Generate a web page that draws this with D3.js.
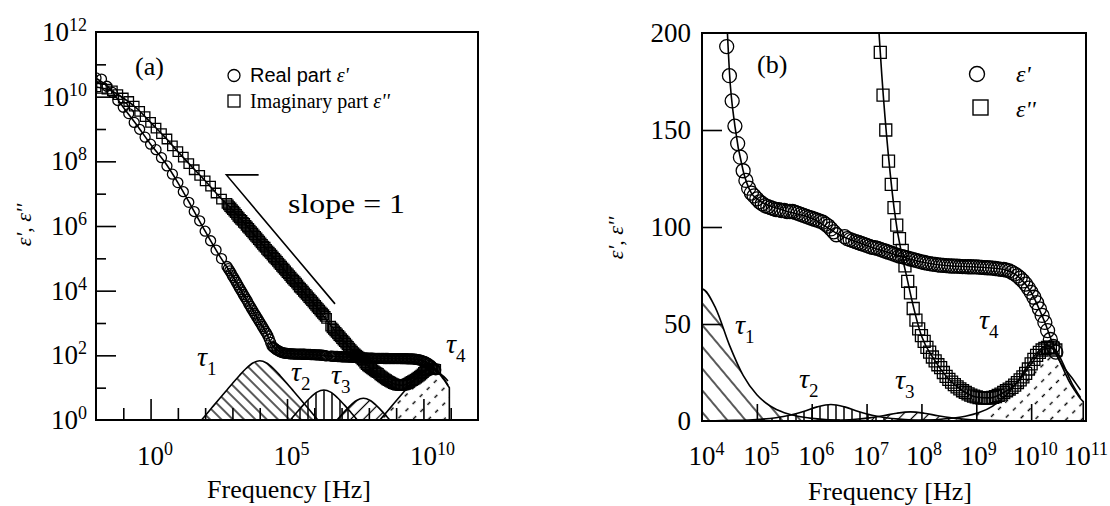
<!DOCTYPE html>
<html><head><meta charset="utf-8">
<script src="https://cdn.jsdelivr.net/npm/d3@7"></script>
<style>body{margin:0;background:#fff} svg{display:block}</style>
</head><body><svg id="c" width="1110" height="506"></svg>
<script>
// ---------- data (frequency given as log10 of Hz) ----------
const freqExpA = [-2.0,-1.8,-1.6,-1.4,-1.2,-1.0,-0.8,-0.6,-0.4,-0.2,0.0,0.2,0.4,0.6,0.8,1.0,1.2,1.4,1.6,1.8,2.0,2.2,2.4,2.6];
const realA = [3.8e10,3.5e10,2.1e10,1.35e10,7.6e9,4.7e9,3.0e9,1.6e9,9.8e8,5.6e8,3.4e8,2.3e8,1.3e8,7.2e7,4.0e7,2.2e7,1.15e7,5.4e6,2.8e6,1.45e6,6.9e5,3.5e5,1.8e5,9.8e4];
const imagA = [2.0e10,1.8e10,1.7e10,1.5e10,1.15e10,9.1e9,7.1e9,5.1e9,3.5e9,2.4e9,1.6e9,1.07e9,7.2e8,4.9e8,3.0e8,2.0e8,1.35e8,8.5e7,5.5e7,3.7e7,2.5e7,1.7e7,1.05e7,6.8e6];

const freqExpB = [2.80,2.85,2.90,2.95,3.00,3.05,3.10,3.15,3.20,3.25,3.30,3.35,3.40,3.45,3.50,3.55,3.60,3.65,3.70,3.75,3.80,3.85,3.90,3.95,4.00,
  4.05,4.10,4.15,4.20,4.25,4.30,4.35,4.40,4.45,4.50,4.55,4.60,4.65,4.70,4.75,4.80,4.85,4.90,4.95,5.00,
  5.05,5.10,5.15,5.20,5.25,5.30,5.35,5.40,5.45,5.50,5.55,5.60,5.65,5.70,5.75,5.80,5.85,5.90,5.95,6.00,
  6.05,6.10,6.15,6.20,6.25,6.30,6.35,6.40,6.45];
const realB = [5.6e4,4.8e4,4.1e4,3.5e4,2.9e4,2.5e4,2.1e4,1.8e4,1.5e4,1.26e4,1.07e4,9.1e3,7.6e3,6.5e3,5.5e3,4.7e3,3.9e3,3.3e3,2.8e3,2.4e3,2.0e3,1.74e3,1.48e3,1.26e3,1.07e3,
  910,780,660,560,480,400,320,250,193,178,165,152,143,136,129,124,120,117.5,116,114.5,
  113,112,111,110.5,110,109.5,109,109,108.5,108.5,108,108,108,107.5,107,106.5,106,105.5,105,104.5,
  104,103.5,103,102.5,101.5,100.5,99,97.5,96];
const imagB = [5.0e6,4.5e6,4.0e6,3.6e6,3.2e6,2.9e6,2.6e6,2.3e6,2.0e6,1.8e6,1.6e6,1.5e6,1.3e6,1.2e6,1.05e6,9.3e5,8.4e5,7.5e5,6.7e5,6.0e5,5.3e5,4.8e5,4.3e5,3.8e5,3.4e5,
  3.0e5,2.7e5,2.4e5,2.2e5,1.9e5,1.7e5,1.55e5,1.4e5,1.25e5,1.1e5,1.0e5,8.9e4,8.0e4,7.1e4,6.4e4,5.7e4,5.1e4,4.6e4,4.1e4,3.6e4,
  3.3e4,2.9e4,2.6e4,2.3e4,2.1e4,1.9e4,1.7e4,1.5e4,1.3e4,1.2e4,1.07e4,9.6e3,8.6e3,7.7e3,6.9e3,6.1e3,5.5e3,4.9e3,4.4e3,3.9e3,
  3.5e3,3.1e3,2.8e3,2.5e3,2.2e3,2.0e3,1.8e3,1.6e3,1.4e3];

const freqExpC = [6.60,6.65,6.70,6.75,6.80,6.85,6.90,6.95,7.00,
  7.05,7.10,7.15,7.20,7.25,7.30,7.35,7.40,7.45,7.50,7.55,7.60,7.65,7.70,7.75,7.80,7.85,7.90,7.95,8.00,
  8.05,8.10,8.15,8.20,8.25,8.30,8.35,8.40,8.45,8.50,8.55,8.60,8.65,8.70,8.75,8.80,8.85,8.90,8.95,9.00,
  9.05,9.10,9.15,9.20,9.25,9.30,9.35,9.40,9.45,9.50,9.55,9.60,9.65,9.70,9.75,9.80,9.85,9.90,9.95,10.00,
  10.05,10.10,10.15,10.20,10.25,10.30,10.35,10.40,10.45];
const realC = [95,94,93.5,93,92.5,92,91.5,91,90.5,
  90,89.5,89.3,89,88.5,88,87.5,87,86.5,86,85.5,85,84.7,84.3,84,83.5,83.2,82.8,82.4,82,
  81.7,81.4,81.1,80.9,80.7,80.5,80.3,80.2,80.1,80,79.9,79.8,79.8,79.7,79.6,79.6,79.5,79.5,79.4,79.4,
  79.3,79.2,79.1,79.0,78.9,78.8,78.6,78.4,78.2,78.1,77.8,77.4,76.6,75.8,74.8,73.6,72.2,70.6,68.5,66.3,
  63.8,61,57.8,54.4,50.8,46.6,42,38.5,35.5];
const imagC = [800,710,640,570,510,460,410,370,330,
  295,265,237,212,190,168,150,134,122,110,101,94,88,80,72,66,58,52,47.5,44,
  41,38,35.5,33,31,29,27.5,25,23,21.5,20,18.8,17.6,16.6,15.6,14.8,14.0,13.3,12.8,12.4,
  12.1,11.9,11.8,11.8,11.9,12.2,12.6,13.2,13.9,14.7,15.6,16.4,17.3,18.5,19.8,21.2,22.7,24.6,26.8,29.4,
  31.8,33.8,35.4,36.6,37.4,38,38.1,37.6,36.6];

// fitted curves
const fitExpReal = [-2,-1.5,-1,-0.5,0,0.5,1,1.5,2,2.5,3,3.5,4,4.25,4.4,4.5,4.6,4.75,4.9,5,5.5,6,6.5,7,7.5,8,8.5,9,9.5,9.75,10,10.25,10.5,10.75,10.9];
const fitReal = [3.7e10,1.8e10,4.7e9,1.3e9,3.4e8,1.0e8,2.2e7,4.0e6,6.9e5,1.3e5,2.9e4,5.5e3,1.07e3,480,250,180,152,129,117.5,114.5,108.5,104.5,96,90.5,86,82,80,79.4,78.1,74.8,66.3,50.8,32,22,16];
const fitExpImag = [-2,-1.5,-1,-0.5,0,0.5,1,1.5,2,2.5,3,3.5,4,4.5,5,5.5,6,6.5,7,7.25,7.5,7.75,8,8.25,8.5,8.75,9,9.25,9.5,9.75,10,10.25,10.4,10.5,10.75,10.9];
const fitImag = [2.0e10,1.6e10,9.1e9,4.3e9,1.6e9,5.9e8,2.0e8,7.0e7,2.5e7,8.5e6,3.2e6,1.05e6,3.4e5,1.1e5,3.6e4,1.2e4,3.9e3,1.1e3,330,190,110,72,44,31,21.5,15.6,12.4,11.9,14.7,19.8,29.4,37.4,37.6,34,19,12];

// relaxation contributions
const tauExp1 = [1.5,1.75,2.0,2.25,2.5,2.75,3.0,3.25,3.5,3.75,4.0,4.25,4.5,4.75,5.0,5.25,5.5,5.75,6.0,6.25,6.5];
const tau1 = [0.43,0.76,1.36,2.42,4.3,7.6,13.5,23.5,39.1,58.1,68,58.1,39.1,23.5,13.5,7.6,4.3,2.42,1.36,0.76,0.43];
const tauExp2 = [3.85,4.1,4.35,4.6,4.85,5.1,5.35,5.6,5.85,6.1,6.35,6.6,6.85,7.1,7.35,7.6,7.85,8.1,8.35,8.6,8.85];
const tau2 = [0.054,0.095,0.17,0.30,0.54,0.95,1.68,2.93,4.89,7.27,8.5,7.27,4.89,2.93,1.68,0.95,0.54,0.30,0.17,0.095,0.054];
const tauExp3 = [5.3,5.55,5.8,6.05,6.3,6.55,6.8,7.05,7.3,7.55,7.8,8.05,8.3,8.55,8.8,9.05,9.3,9.55,9.8,10.05,10.3];
const tau3 = [0.030,0.053,0.094,0.167,0.297,0.526,0.93,1.62,2.70,4.02,4.7,4.02,2.70,1.62,0.93,0.526,0.297,0.167,0.094,0.053,0.030];
const tauExp4 = [7.8,8.05,8.3,8.55,8.8,9.05,9.3,9.55,9.8,10.05,10.3,10.4,10.5,10.6,10.7,10.8,10.9,10.95];
const tau4 = [0.25,0.44,0.78,1.39,2.46,4.37,7.7,13.5,22.4,33.3,39,37,32,26,20,15.5,11.5,10];

// slope guide (panel a)
const slopeExp = [3.96, 2.78, 6.76];
const slopeVal = [3.8e7, 3.8e7, 3.9e3];

// tick labels
const tickExpXa = [0, 5, 10];
const tickExpYa = [0, 2, 4, 6, 8, 10, 12];
const tickExpXb = [4, 5, 6, 7, 8, 9, 10, 11];
const tickValYb = [0, 50, 100, 150, 200];

// ---------- drawing ----------
const SERIF = "'Liberation Serif','Times New Roman',serif";
const SANS = "'Liberation Sans',Arial,sans-serif";
const svg = d3.select('#c');
const defs = svg.append('defs');

function hatch(id, spacing, angle, dash, sw) {
  const p = defs.append('pattern').attr('id', id).attr('patternUnits', 'userSpaceOnUse')
    .attr('width', spacing).attr('height', 20).attr('patternTransform', `rotate(${angle})`);
  p.append('line').attr('x1', spacing / 2).attr('x2', spacing / 2).attr('y1', 0).attr('y2', 20)
    .attr('stroke', '#000').attr('stroke-width', sw).attr('stroke-dasharray', dash || null);
}
hatch('h1a', 8, -45, null, 1.3);
hatch('h1b', 14, -40, null, 1.3);
hatch('h2', 8, 0, null, 1.5);
hatch('h3a', 9, 45, null, 1.2);
hatch('h3b', 9, 45, null, 1.2);
hatch('h4', 11, 45, '4,6', 1.4);

const pts = (ex, vals) => ex.map((e, i) => ({ f: Math.pow(10, e), v: vals[i] }));

function drawPanel(P) {
  const { x, y, id } = P;
  const [x0, x1] = x.range(), [yb, yt] = y.range();
  const g = svg.append('g');
  defs.append('clipPath').attr('id', id + 'clip').append('rect')
    .attr('x', x0).attr('y', yt).attr('width', x1 - x0).attr('height', yb - yt);
  const plot = g.append('g').attr('clip-path', `url(#${id}clip)`);

  const hills = [[tauExp1, tau1, P.h1], [tauExp2, tau2, 'h2'], [tauExp3, tau3, P.h3], [tauExp4, tau4, 'h4']];
  hills.forEach(([ex, vals, pat]) => {
    const area = d3.area().x(d => x(d.f)).y0(yb).y1(d => y(d.v)).curve(d3.curveMonotoneX);
    plot.append('path').attr('d', area(pts(ex, vals)))
      .attr('fill', `url(#${pat})`).attr('stroke', '#000').attr('stroke-width', 1.6);
  });

  const circ = d3.symbol().type(d3.symbolCircle).size(Math.PI * P.r * P.r);
  const sq = d3.symbol().type(d3.symbolSquare).size(P.s * P.s);
  [[freqExpA, realA, imagA], [freqExpB, realB, imagB], [freqExpC, realC, imagC]].forEach(([ex, re, im]) => {
    plot.append('g').selectAll('path').data(pts(ex, im)).join('path')
      .attr('d', sq).attr('transform', d => `translate(${x(d.f)},${y(d.v)})`)
      .attr('fill', 'none').attr('stroke', '#000').attr('stroke-width', P.msw);
    plot.append('g').selectAll('path').data(pts(ex, re)).join('path')
      .attr('d', circ).attr('transform', d => `translate(${x(d.f)},${y(d.v)})`)
      .attr('fill', 'none').attr('stroke', '#000').attr('stroke-width', P.msw);
  });

  const line = d3.line().x(d => x(d.f)).y(d => y(d.v)).curve(d3.curveMonotoneX);
  plot.append('path').attr('d', line(pts(fitExpReal, fitReal))).attr('fill', 'none').attr('stroke', '#000').attr('stroke-width', 1.6);
  plot.append('path').attr('d', line(pts(fitExpImag, fitImag))).attr('fill', 'none').attr('stroke', '#000').attr('stroke-width', 1.6);

  const noLab = () => '';
  P.xTicks.forEach(([vals, len]) => {
    g.append('g').attr('transform', `translate(0,${yb})`)
      .call(d3.axisBottom(x).tickValues(vals).tickSize(-len).tickFormat(noLab))
      .call(a => { a.select('.domain').remove(); a.selectAll('line').attr('stroke-width', 1.6); });
  });
  P.yTicks.forEach(([vals, len]) => {
    g.append('g').attr('transform', `translate(${x0},0)`)
      .call(d3.axisLeft(y).tickValues(vals).tickSize(-len).tickFormat(noLab))
      .call(a => { a.select('.domain').remove(); a.selectAll('line').attr('stroke-width', 1.6); });
  });

  g.append('rect').attr('x', x0).attr('y', yt).attr('width', x1 - x0).attr('height', yb - yt)
    .attr('fill', 'none').attr('stroke', '#000').attr('stroke-width', 2);
  return g;
}

function supText(g, xx, yy, anchor, base, exp) {
  const t = g.append('text').attr('x', xx).attr('y', yy).attr('text-anchor', anchor)
    .attr('font-family', SERIF).attr('font-size', 27).attr('fill', '#000');
  t.append('tspan').text(base);
  t.append('tspan').attr('font-size', 18).attr('dy', -10).text(exp);
  return t;
}
function tauText(g, xx, yy, k) {
  const t = g.append('text').attr('x', xx).attr('y', yy).attr('font-family', SERIF).attr('fill', '#000');
  t.append('tspan').attr('font-size', 28).attr('font-style', 'italic').text('τ');
  t.append('tspan').attr('font-size', 19).attr('dy', 9).text(k);
}
function plainText(g, xx, yy, str, size, opts = {}) {
  return g.append('text').attr('x', xx).attr('y', yy).attr('font-family', opts.family || SERIF)
    .attr('font-size', size).attr('font-style', opts.italic ? 'italic' : null)
    .attr('text-anchor', opts.anchor || 'start').attr('fill', '#000').text(str);
}

// ---------- panel (a) ----------
const xa = d3.scaleLog().domain([1e-2, 1e12]).range([96, 478]);
const ya = d3.scaleLog().domain([1, 1e12]).range([420, 32]);
const decA = d3.range(-1, 12).map(e => Math.pow(10, e));
const ga = drawPanel({
  id: 'pa', x: xa, y: ya, h1: 'h1a', h3: 'h3a', r: 5, s: 9.5, msw: 1.3,
  xTicks: [[decA.filter(v => ![1, 1e5, 1e10].includes(v)), 12], [[1, 1e5, 1e10], 21]],
  yTicks: [[[1e1, 1e3, 1e5, 1e7, 1e9, 1e11], 10], [[1e2, 1e4, 1e6, 1e8, 1e10], 20]]
});
ga.append('path').attr('d', d3.line().x(d => xa(d.f)).y(d => ya(d.v))(pts(slopeExp, slopeVal)))
  .attr('fill', 'none').attr('stroke', '#000').attr('stroke-width', 1.6);
plainText(ga, 288, 213, 'slope = 1', 27).attr('textLength', 117).attr('lengthAdjust', 'spacingAndGlyphs');
tickExpXa.forEach(e => supText(ga, xa(Math.pow(10, e)) - 13.5, 465, 'start', '10', e));
tickExpYa.forEach(e => supText(ga, 87, ya(Math.pow(10, e)) + 9, 'end', '10', e));
plainText(ga, 289, 498, 'Frequency [Hz]', 26, { anchor: 'middle' });
plainText(ga, 135, 75, '(a)', 26);
ga.append('text').attr('transform', 'translate(31,225) rotate(-90)').attr('text-anchor', 'middle')
  .attr('font-family', SERIF).attr('font-size', 22).attr('font-style', 'italic').text("ε', ε''");
ga.append('circle').attr('cx', 234).attr('cy', 75.5).attr('r', 6).attr('fill', 'none').attr('stroke', '#000').attr('stroke-width', 1.3);
ga.append('rect').attr('x', 228).attr('y', 95).attr('width', 12).attr('height', 12).attr('fill', 'none').attr('stroke', '#000').attr('stroke-width', 1.3);
{
  const t = plainText(ga, 250, 82, 'Real part ', 20, { family: SANS });
  t.append('tspan').attr('font-family', SERIF).attr('font-style', 'italic').text("ε'");
  const t2 = plainText(ga, 250, 108, 'Imaginary part ', 20);
  t2.append('tspan').attr('font-style', 'italic').text("ε''");
}
tauText(ga, 197, 366, '1');
tauText(ga, 291, 381, '2');
tauText(ga, 331, 384, '3');
tauText(ga, 446, 353, '4');

// ---------- panel (b) ----------
const xb = d3.scaleLog().domain([1e4, 1e11]).range([702, 1086]);
const yb = d3.scaleLinear().domain([0, 200]).range([421, 33]);
const gb = drawPanel({
  id: 'pb', x: xb, y: yb, h1: 'h1b', h3: 'h3b', r: 7, s: 12, msw: 1.3,
  xTicks: [[[1e5, 1e6, 1e7, 1e8, 1e9, 1e10], 17]],
  yTicks: [[[50, 100, 150], 20]]
});
tickExpXb.forEach(e => {
  if (e === 11) supText(gb, 1108, 465, 'end', '10', e);
  else supText(gb, xb(Math.pow(10, e)) - 13.5 - (e === 10 ? 5 : e >= 8 ? 2 : 0), 465, 'start', '10', e);
});
tickValYb.forEach(v => plainText(gb, 691, yb(v) + 9, String(v), 27, { anchor: 'end' }));
plainText(gb, 890, 500, 'Frequency [Hz]', 26, { anchor: 'middle' });
plainText(gb, 757, 73, '(b)', 26);
gb.append('text').attr('transform', 'translate(623,238) rotate(-90)').attr('text-anchor', 'middle')
  .attr('font-family', SERIF).attr('font-size', 22).attr('font-style', 'italic').text("ε', ε''");
gb.append('circle').attr('cx', 977).attr('cy', 74).attr('r', 7.5).attr('fill', 'none').attr('stroke', '#000').attr('stroke-width', 1.4);
gb.append('rect').attr('x', 973).attr('y', 100).attr('width', 15).attr('height', 15).attr('fill', 'none').attr('stroke', '#000').attr('stroke-width', 1.4);
plainText(gb, 1016, 82, "ε'", 24, { italic: true });
plainText(gb, 1016, 117, "ε''", 24, { italic: true });
tauText(gb, 735, 334, '1');
tauText(gb, 799, 388, '2');
tauText(gb, 895, 389, '3');
tauText(gb, 979, 329, '4');
</script>
</body></html>
